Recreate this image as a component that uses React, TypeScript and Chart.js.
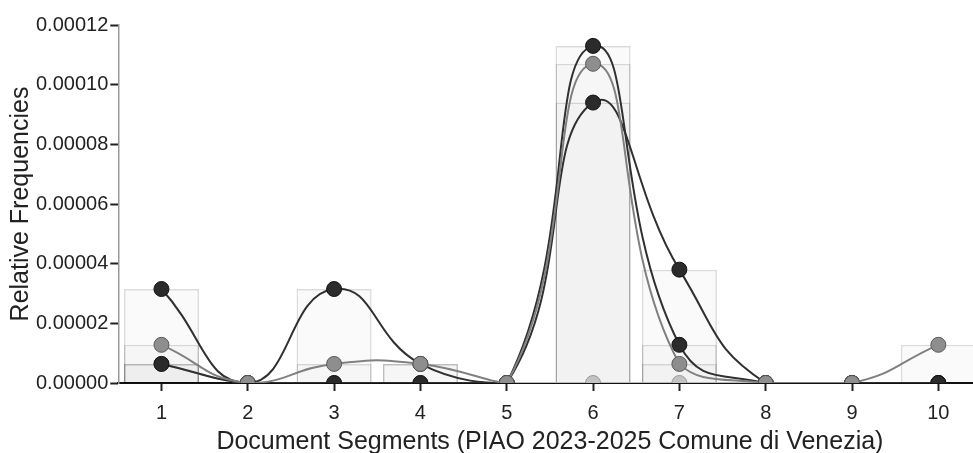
import { useEffect, useRef } from 'react';
import { Chart, registerables } from 'chart.js';

Chart.register(...registerables);

const categories = ['1', '2', '3', '4', '5', '6', '7', '8', '9', '10'];
const yTickValues = [0, 0.00002, 0.00004, 0.00006, 0.00008, 0.0001, 0.00012];

// term series (relative frequencies per document segment)
const termA = [0.0000315, 0, 0.0000315, 0.0000064, 0, 0.000094, 0.000038, 0, 0, 0];
const termB = [0.0000128, 0, 0.0000064, 0.0000064, 0, 0.000107, 0.0000064, 0, 0, 0.0000128];
const termC = [0.0000064, 0, 0, 0, 0, 0.000113, 0.0000128, 0, 0, 0];
const termD = [0.0000064, 0, 0, 0, 0, 0, 0, 0, 0, 0];

const xTitle = 'Document Segments (PIAO 2023-2025 Comune di Venezia)';
const yTitle = 'Relative Frequencies';

const FONT = "'Liberation Sans', Arial, Helvetica, sans-serif";

export default function App() {
  const ref = useRef<HTMLCanvasElement | null>(null);

  useEffect(() => {
    if (!ref.current) return;
    Chart.defaults.font.family = FONT;

    const series = [
      { data: termB, line: '#808080', fill: '#8e8e8e', edge: '#5a5a5a', order: 0 },
      { data: termC, line: '#303030', fill: '#2b2b2b', edge: '#111111', order: 1 },
      { data: termA, line: '#303030', fill: '#2b2b2b', edge: '#111111', order: 2 },
      { data: termD, line: '#bdbdbd', fill: '#c2c2c2', edge: '#999999', order: 3 },
    ];

    const lineSets = series.map((s) => ({
      type: 'line' as const,
      data: s.data,
      borderColor: s.line,
      borderWidth: 2,
      tension: 0.5,
      pointRadius: 7.5,
      pointBorderWidth: 1,
      pointBackgroundColor: s.fill,
      pointBorderColor: s.edge,
      fill: false,
      order: s.order,
    }));

    const barSets = series.map((s, i) => ({
      type: 'bar' as const,
      data: s.data,
      backgroundColor: 'rgba(0,0,0,0.018)',
      borderColor: 'rgba(0,0,0,0.14)',
      borderWidth: 1.5,
      grouped: false,
      barPercentage: 0.87,
      categoryPercentage: 1,
      order: 10 + i,
    }));

    const chart = new Chart(ref.current, {
      type: 'bar',
      data: { labels: categories, datasets: [...lineSets, ...barSets] as any },
      options: {
        animation: false,
        responsive: true,
        maintainAspectRatio: false,
        layout: { padding: { left: 0, right: 7, top: 25, bottom: 4 } },
        plugins: { legend: { display: false }, tooltip: { enabled: false } },
        scales: {
          x: {
            type: 'category',
            offset: true,
            z: 1,
            grid: {
              offset: false,
              drawOnChartArea: false,
              drawTicks: true,
              tickLength: 8,
              tickColor: '#222',
              tickWidth: 2,
            },
            border: { display: true, color: '#111', width: 2 },
            ticks: { color: '#222', font: { size: 20 }, padding: 10 },
            title: {
              display: true,
              text: xTitle,
              color: '#222',
              font: { size: 25 },
              padding: { top: -8, bottom: 0 },
            },
          },
          y: {
            min: 0,
            max: 0.00012,
            afterBuildTicks: (scale: any) => {
              scale.ticks = yTickValues.map((v) => ({ value: v }));
            },
            grid: {
              drawOnChartArea: false,
              drawTicks: true,
              tickLength: 8,
              tickColor: '#222',
              tickWidth: 2,
            },
            border: { display: true, color: '#999', width: 1.5 },
            ticks: {
              color: '#222',
              font: { size: 20 },
              padding: 2,
              callback: (v: any) => Number(v).toFixed(5),
            },
            title: {
              display: true,
              text: yTitle,
              color: '#222',
              font: { size: 25 },
              padding: { top: 6.5, bottom: -2.5 },
            },
          },
        },
      },
    });
    return () => chart.destroy();
  }, []);

  return (
    <div
      style={{
        position: 'fixed',
        left: 0,
        top: 0,
        width: 973,
        height: 453,
        overflow: 'hidden',
        background: '#fff',
      }}
    >
      <div style={{ position: 'relative', width: 990, height: 461 }}>
        <canvas ref={ref} />
      </div>
    </div>
  );
}
